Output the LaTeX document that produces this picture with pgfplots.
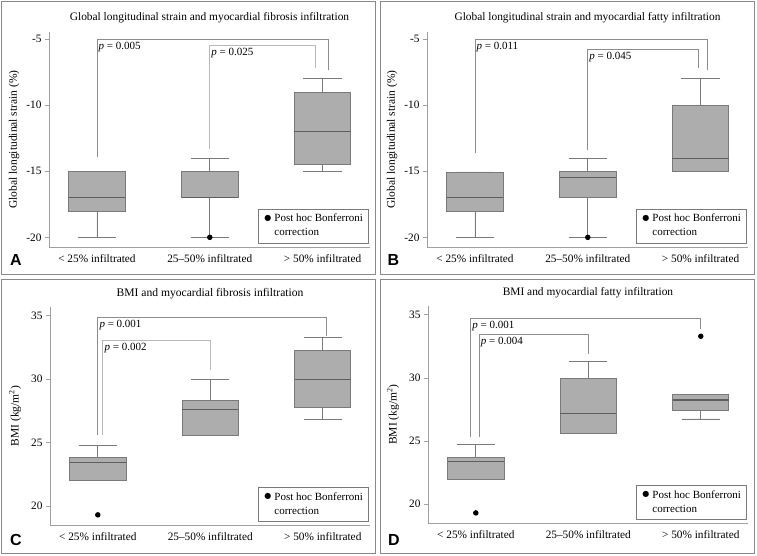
\documentclass[border=0pt]{standalone}
\usepackage{fontspec}
\setmainfont{Liberation Serif}
\newfontfamily\labelfont{Liberation Sans}
\newfontfamily\symfont{DejaVu Sans}
\usepackage{pgfplots}
\pgfplotsset{compat=1.18}
\usepgfplotslibrary{statistics}

\definecolor{boxfill}{HTML}{ADADAD}
\definecolor{boxedge}{HTML}{7A7A7A}
\definecolor{medcol}{HTML}{5E5E5E}
\definecolor{axcol}{HTML}{A0A0A0}
\definecolor{brkcol}{HTML}{8C8C8C}
\definecolor{brklight}{HTML}{B8B8B8}
\definecolor{framecol}{HTML}{8A8A8A}

\pgfplotsset{
  panel/.style={
    scale only axis, width=321pt,
    xmin=-0.425, xmax=2.42,
    axis lines*=left, axis line style={draw=axcol, line width=0.9pt, -},
    clip=false,
    xtick={0,1,2},
    xticklabels={\textless{} 25\% infiltrated, 25--50\% infiltrated, \textgreater{} 50\% infiltrated},
    x tick style={draw=none},
    y tick style={draw=axcol, line width=0.8pt},
    tick align=outside, major tick length=4pt,
    ticklabel style={font=\fontsize{11.3}{13}\selectfont},
    /pgf/number format/assume math mode=true,
    label style={font=\fontsize{11.5}{13}\selectfont},
    ylabel style={at={(axis description cs:-0.109,0.5)}, anchor=center},
    boxplot/draw direction=y,
    boxplot/box extend=0.5, boxplot/whisker extend=0.34,
  },
  bx/.style={boxplot/draw direction=y, boxplot prepared={#1}, draw=boxedge, fill=boxfill, line width=0.8pt,
    mark=*, mark size=2.3pt, mark options={draw=black, fill=black},
    boxplot/every median/.style={draw=medcol, line width=1.1pt}},
  brk/.style={draw=#1, line width=0.8pt, mark=none, forget plot},
}
\tikzset{
  ptext/.style={anchor=north west, inner xsep=1.5pt, inner ysep=2.5pt, font=\fontsize{11}{13}\selectfont},
  ttl/.style={font=\fontsize{#1}{14}\selectfont},
  lgd/.style={draw=boxedge, line width=0.6pt, anchor=south east, inner xsep=5pt, inner ysep=3pt,
    font=\fontsize{11}{14}\selectfont, minimum width=110pt},
}
\newcommand{\lgdtext}{\begin{tabular}{@{}c@{\hspace{3pt}}l@{}}\raisebox{0.3ex}{\symfont\fontsize{8}{8}\selectfont ●} & Post hoc Bonferroni\\ & correction\end{tabular}}

\begin{document}
\begin{tikzpicture}
\path (0pt,0pt) rectangle (757pt,556pt);
% panel frames
\draw[framecol, line width=0.9pt] (1.5pt,282pt) rectangle (375.5pt,554.5pt);
\draw[framecol, line width=0.9pt] (380.5pt,282pt) rectangle (754.5pt,554.5pt);
\draw[framecol, line width=0.9pt] (1.5pt,3pt) rectangle (375.5pt,277pt);
\draw[framecol, line width=0.9pt] (380.5pt,3pt) rectangle (754.5pt,277pt);

% ---------------- A ----------------
\begin{axis}[panel, at={(49pt,309pt)}, anchor=south west, height=215pt,
  ymin=-20.73, ymax=-4.45, ytick={-20,-15,-10,-5},
  ylabel={Global longitudinal strain (\%)}]
\addplot[bx={draw position=0, lower whisker=-20, lower quartile=-18, median=-17, upper quartile=-15, upper whisker=-15}] coordinates {};
\addplot[bx={draw position=1, lower whisker=-20, lower quartile=-17, median=-17, upper quartile=-15, upper whisker=-14}] coordinates {(1,-20)};
\addplot[bx={draw position=2, lower whisker=-15, lower quartile=-14.5, median=-12, upper quartile=-9, upper whisker=-8}] coordinates {};
\addplot[brk=brkcol] coordinates {(0,-13.9) (0,-5) (2.05,-5) (2.05,-7.3)};
\addplot[brk=brklight] coordinates {(1,-13.3) (1,-5.45) (1.94,-5.45) (1.94,-7.2)};
\node[ptext] at (axis cs:0,-5) {\textit{p} = 0.005};
\node[ptext] at (axis cs:1,-5.45) {\textit{p} = 0.025};
\node[ttl=11.4] at (rel axis cs:0.5,1) [yshift=14pt] {Global longitudinal strain and myocardial fibrosis infiltration};
\node[lgd] at (rel axis cs:0.997,0.018) {\lgdtext};
\end{axis}

% ---------------- B ----------------
\begin{axis}[panel, at={(427pt,309pt)}, anchor=south west, height=215pt,
  ymin=-20.73, ymax=-4.45, ytick={-20,-15,-10,-5},
  ylabel={Global longitudinal strain (\%)}]
\addplot[bx={draw position=0, lower whisker=-20, lower quartile=-18, median=-17, upper quartile=-15.05, upper whisker=-15.05}] coordinates {};
\addplot[bx={draw position=1, lower whisker=-20, lower quartile=-17, median=-15.45, upper quartile=-15, upper whisker=-14}] coordinates {(1,-20)};
\addplot[bx={draw position=2, lower whisker=-15, lower quartile=-15, median=-14, upper quartile=-10, upper whisker=-8}] coordinates {};
\addplot[brk=brkcol] coordinates {(0,-13.65) (0,-5) (2.06,-5) (2.06,-7.3)};
\addplot[brk=brkcol] coordinates {(1,-13.35) (1,-5.75) (1.98,-5.75) (1.98,-7.2)};
\node[ptext] at (axis cs:0,-5) {\textit{p} = 0.011};
\node[ptext] at (axis cs:1,-5.75) {\textit{p} = 0.045};
\node[ttl=11.4] at (rel axis cs:0.5,1) [yshift=14pt] {Global longitudinal strain and myocardial fatty infiltration};
\node[lgd] at (rel axis cs:0.997,0.018) {\lgdtext};
\end{axis}

% ---------------- C ----------------
\begin{axis}[panel, at={(50pt,31pt)}, anchor=south west, height=218pt, width=320pt,
  ymin=18.5, ymax=35.7, ytick={20,25,30,35},
  ylabel={BMI (kg/m\textsuperscript{2})}]
\addplot[bx={draw position=0, lower whisker=22.05, lower quartile=22.05, median=23.4, upper quartile=23.8, upper whisker=24.8}] coordinates {(0,19.3)};
\addplot[bx={draw position=1, lower whisker=25.6, lower quartile=25.6, median=27.6, upper quartile=28.3, upper whisker=30}] coordinates {};
\addplot[bx={draw position=2, lower whisker=26.85, lower quartile=27.75, median=30, upper quartile=32.3, upper whisker=33.3}] coordinates {};
\addplot[brk=brkcol] coordinates {(0,25.6) (0,34.9) (2.03,34.9) (2.03,33.4)};
\addplot[brk=brklight] coordinates {(0.045,25.6) (0.045,33.05) (1,33.05) (1,30.7)};
\node[ptext] at (axis cs:0,34.9) {\textit{p} = 0.001};
\node[ptext] at (axis cs:0.045,33.05) {\textit{p} = 0.002};
\node[ttl=11.6] at (rel axis cs:0.5,1) [yshift=13.5pt] {BMI and myocardial fibrosis infiltration};
\node[lgd] at (rel axis cs:0.997,0.015) {\lgdtext};
\end{axis}

% ---------------- D ----------------
\begin{axis}[panel, at={(428pt,33pt)}, anchor=south west, height=217pt, width=320pt,
  ymin=18.5, ymax=35.7, ytick={20,25,30,35},
  ylabel={BMI (kg/m\textsuperscript{2})}]
\addplot[bx={draw position=0, lower whisker=21.95, lower quartile=21.95, median=23.35, upper quartile=23.7, upper whisker=24.75}] coordinates {(0,19.3)};
\addplot[bx={draw position=1, lower whisker=25.6, lower quartile=25.6, median=27.2, upper quartile=30, upper whisker=31.3}] coordinates {};
\addplot[bx={draw position=2, lower whisker=26.75, lower quartile=27.45, median=28.25, upper quartile=28.7, upper whisker=28.7}] coordinates {(2,33.3)};
\addplot[brk=brkcol] coordinates {(-0.045,25.35) (-0.045,34.7) (2.0,34.7) (2.0,33.9)};
\addplot[brk=brkcol] coordinates {(0.03,25.35) (0.03,33.45) (1,33.45) (1,31.9)};
\node[ptext] at (axis cs:-0.045,34.7) {\textit{p} = 0.001};
\node[ptext] at (axis cs:0.03,33.45) {\textit{p} = 0.004};
\node[ttl=11.4] at (rel axis cs:0.5,1) [yshift=13.5pt] {BMI and myocardial fatty infiltration};
\node[lgd] at (rel axis cs:0.997,0.015) {\lgdtext};
\end{axis}

% panel letters
\node[font=\labelfont\bfseries\fontsize{16}{16}\selectfont] at (16pt,296pt) {A};
\node[font=\labelfont\bfseries\fontsize{16}{16}\selectfont] at (393.5pt,296pt) {B};
\node[font=\labelfont\bfseries\fontsize{16}{16}\selectfont] at (16pt,16pt) {C};
\node[font=\labelfont\bfseries\fontsize{16}{16}\selectfont] at (394pt,16pt) {D};
\end{tikzpicture}
\end{document}
